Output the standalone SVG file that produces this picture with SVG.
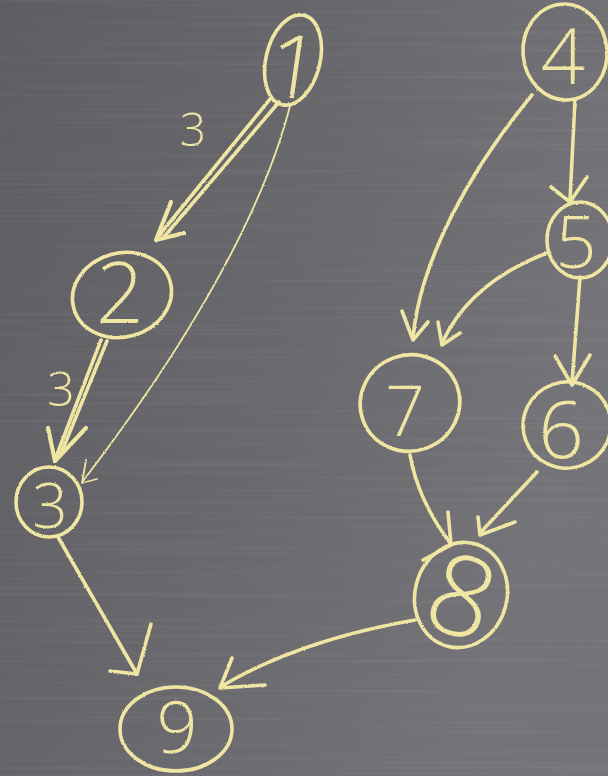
<svg xmlns="http://www.w3.org/2000/svg" width="608" height="776" viewBox="0 0 608 776">
  <style>
    .chalk { fill: none; stroke: #efe6a4; stroke-width: 3.6; stroke-linecap: round; stroke-linejoin: round; }
    .thin { stroke-width: 1.8; }
    .bold { stroke-width: 4.2; }
    .digit { fill: #efe6a4; font-family: "Open Sans", "Liberation Sans", sans-serif; font-weight: 300; text-anchor: middle; }
    .weight { fill: #efe6a4; font-family: "Open Sans", "Liberation Sans", sans-serif; font-weight: 300; text-anchor: middle; }
  </style>
  <defs>
    <linearGradient id="board" x1="0" y1="0" x2="1" y2="0.4">
      <stop offset="0" stop-color="#5e5e62"/>
      <stop offset="0.55" stop-color="#69696d"/>
      <stop offset="1" stop-color="#747478"/>
    </linearGradient>
    <!-- horizontal eraser streaks on the board -->
    <filter id="streaks" x="0" y="0" width="100%" height="100%">
      <feTurbulence type="fractalNoise" baseFrequency="0.003 0.3" numOctaves="2" seed="4" result="n"/>
      <feColorMatrix type="matrix" values="0 0 0 0 1  0 0 0 0 1  0 0 0 0 1  1.2 0 0 0 -0.55" />
    </filter>
    <!-- grainy chalk edge -->
    <filter id="grain" x="-5%" y="-5%" width="110%" height="110%">
      <feTurbulence type="fractalNoise" baseFrequency="0.9" numOctaves="2" seed="7" result="t"/>
      <feDisplacementMap in="SourceGraphic" in2="t" scale="2" xChannelSelector="R" yChannelSelector="G"/>
    </filter>
  </defs>

  <!-- board -->
  <rect width="608" height="776" fill="url(#board)"/>
  <rect width="608" height="776" filter="url(#streaks)" opacity="0.1"/>

  <g filter="url(#grain)">
    <!-- connectors -->
    <g id="connectors">
      <!-- 1 -> 2 (weight 3) -->
      <path class="chalk" d="M271,98 L157,238"/>
      <path class="chalk" d="M279,102 L163,238"/>
      <path class="chalk bold" d="M171,202 L156,240 L184,233"/>
      <text class="weight" x="193" y="146" font-size="46">3</text>
      <!-- 1 -> 3 -->
      <path class="chalk thin" d="M290,106 Q250,262 83,481"/>
      <path class="chalk thin" d="M86,460 L82,483 L97,479"/>
      <!-- 2 -> 3 (weight 3) -->
      <path class="chalk" d="M101,340 L56,457"/>
      <path class="chalk" d="M107,341 L60,456"/>
      <path class="chalk bold" d="M48,428 L55,461 L86,428"/>
      <text class="weight" x="61" y="406" font-size="48">3</text>
      <!-- 3 -> 9 -->
      <path class="chalk" d="M58,537 L137,674"/>
      <path class="chalk" d="M151,624 L137,674 L110,671"/>
      <!-- 4 -> 7 -->
      <path class="chalk" d="M532,95 C470,170 420,260 413,338"/>
      <path class="chalk" d="M402,311 L413,340 L428,322"/>
      <!-- 4 -> 5 -->
      <path class="chalk" d="M575,100 L570,200"/>
      <path class="chalk" d="M551,187 L570,202 L587,177"/>
      <!-- 5 -> 7 -->
      <path class="chalk" d="M547,253 Q470,282 442,343"/>
      <path class="chalk" d="M438,322 L442,345 L460,333"/>
      <!-- 5 -> 6 -->
      <path class="chalk" d="M580,277 L572,383"/>
      <path class="chalk" d="M555,356 L572,385 L590,355"/>
      <!-- 7 -> 8 -->
      <path class="chalk" d="M410,455 Q418,500 450,543"/>
      <path class="chalk" d="M448,512 L451,545 L423,560"/>
      <!-- 6 -> 8 -->
      <path class="chalk" d="M537,472 L480,533"/>
      <path class="chalk" d="M478,517 L480,535 L515,522"/>
      <!-- 8 -> 9 -->
      <path class="chalk" d="M415,620 Q300,640 222,686"/>
      <path class="chalk" d="M232,658 L220,688 L265,685"/>
    </g>

    <!-- nodes -->
    <g id="node-1">
      <ellipse class="chalk" cx="293" cy="60" rx="27" ry="46" transform="rotate(14 293 60)"/>
      <text class="digit" x="294" y="98" font-size="88" transform="rotate(8 294 66)">1</text>
    </g>
    <g id="node-2">
      <ellipse class="chalk" cx="122" cy="295" rx="50" ry="42" transform="rotate(-15 122 295)"/>
      <text class="digit" x="120" y="323" font-size="84">2</text>
    </g>
    <g id="node-3">
      <ellipse class="chalk" cx="49" cy="502" rx="33" ry="35"/>
      <text class="digit" x="50" y="528" font-size="62">3</text>
    </g>
    <g id="node-4">
      <ellipse class="chalk" cx="565" cy="52" rx="42" ry="48" transform="rotate(-5 565 52)"/>
      <text class="digit" x="563" y="84" font-size="78">4</text>
    </g>
    <g id="node-5">
      <ellipse class="chalk" cx="580" cy="240" rx="33" ry="38"/>
      <text class="digit" x="576" y="268" font-size="72">5</text>
    </g>
    <g id="node-7">
      <ellipse class="chalk" cx="410" cy="403" rx="50" ry="48" transform="rotate(-20 410 403)"/>
      <text class="digit" x="405" y="436" font-size="70">7</text>
    </g>
    <g id="node-6">
      <ellipse class="chalk" cx="567" cy="425" rx="44" ry="43" transform="rotate(-20 567 425)"/>
      <text class="digit" x="561" y="458" font-size="80">6</text>
    </g>
    <g id="node-8">
      <ellipse class="chalk" cx="461" cy="595" rx="46" ry="53" transform="rotate(15 461 595)"/>
      <text class="digit" x="462" y="636" font-size="112" transform="rotate(18 462 596)">8</text>
    </g>
    <g id="node-9">
      <ellipse class="chalk" cx="176" cy="729" rx="56" ry="42"/>
      <text class="digit" x="177" y="753" font-size="72">9</text>
    </g>
  </g>
</svg>
